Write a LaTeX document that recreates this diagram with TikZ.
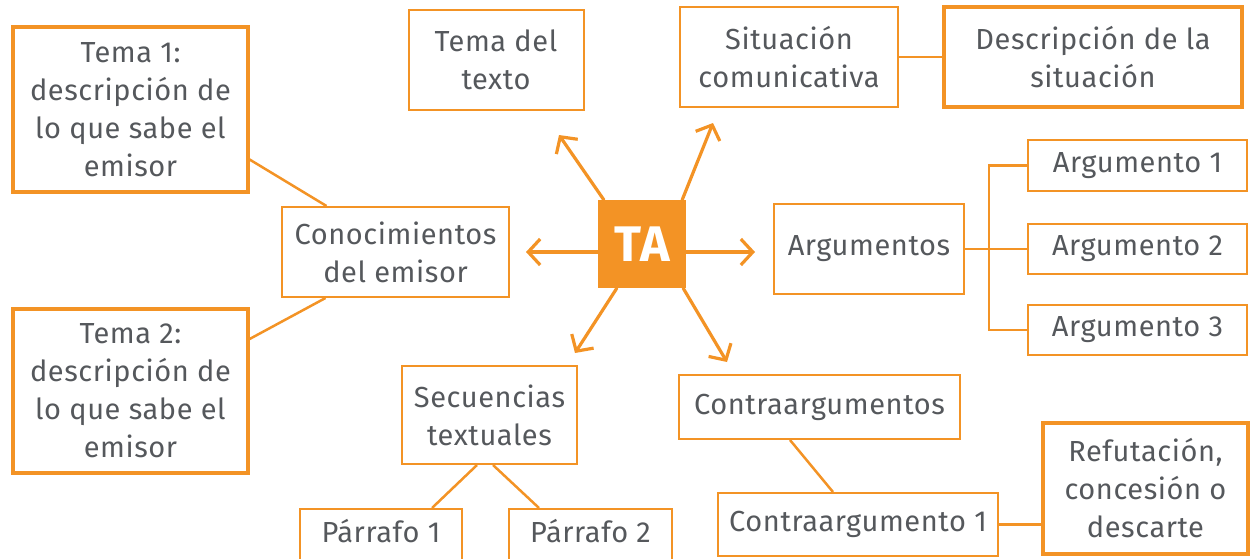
\documentclass[tikz,border=0pt]{standalone}
\usepackage{fontspec}
\setmainfont{Fira Sans}[LetterSpace=2]
\usepackage{tikz}
\usetikzlibrary{arrows.meta}
\definecolor{naranja}{HTML}{F39325}
\definecolor{gris}{HTML}{55585C}

\begin{document}
\begin{tikzpicture}[x=1pt, y=-1pt,
  box/.style = {draw=naranja, line width=2pt, align=center, inner sep=0pt, text=gris, font=\fontsize{29}{38}\selectfont},
  gruesa/.style = {box, line width=3.2pt},
  parrafo/.style = {box, minimum height=58, text depth=14pt},
  linea/.style = {draw=naranja, line width=2.5pt},
  flecha/.style = {draw=naranja, line width=3.2pt, line cap=round, -{Straight Barb[length=12pt,width=26pt]}}]
\clip (0,0) rectangle (1250,558);
\node[gruesa, minimum width=235, minimum height=165] (tema1) at (130.5,109.5) {Tema 1:\\descripción de\\lo que sabe el\\emisor};
\node[gruesa, minimum width=235, minimum height=164] (tema2) at (130.5,391) {Tema 2:\\descripción de\\lo que sabe el\\emisor};
\node[box, minimum width=227, minimum height=90] (conoc) at (395.5,252) {Conocimientos\\del emisor};
\node[box, minimum width=175, minimum height=100] (tematxt) at (496,60) {Tema del\\texto};
\node[box, minimum width=218, minimum height=100] (sit) at (789,57) {Situación\\comunicativa};
\node[gruesa, minimum width=298, minimum height=100] (desc) at (1093,57) {Descripción de la\\situación};
\node[fill=naranja, minimum width=88, minimum height=88, inner sep=0pt, text=white, font=\fontsize{50}{50}\selectfont\bfseries] (ta) at (642,244) {TA};
\node[box, minimum width=190, minimum height=90] (args) at (869,249) {Argumentos};
\node[box, minimum width=219, minimum height=51] (arg1) at (1137.5,165.5) {Argumento 1};
\node[box, minimum width=219, minimum height=50] (arg2) at (1137.5,249) {Argumento 2};
\node[box, minimum width=219, minimum height=50] (arg3) at (1137.5,330) {Argumento 3};
\node[box, minimum width=175, minimum height=98] (sec) at (489.5,415) {Secuencias\\textuales};
\node[parrafo, minimum width=162] (par1) at (381,538) {Párrafo 1};
\node[parrafo, minimum width=163] (par2) at (590.5,538) {Párrafo 2};
\node[box, minimum width=281, minimum height=64] (contras) at (819.5,407) {Contraargumentos};
\node[box, minimum width=280, minimum height=63] (contra1) at (858,524.5) {Contraargumento 1};
\node[gruesa, minimum width=205, minimum height=131] (refut) at (1145.5,488.5) {Refutación,\\concesión o\\descarte};

\coordinate (brk) at (989,249);
\coordinate (pTema) at (559,135);
\coordinate (pSit) at (713,123);
\coordinate (pConoc) at (526,252);
\coordinate (pArgs) at (755,252);
\coordinate (pSec) at (575,353);
\coordinate (pContras) at (727,362);

\draw[flecha] ([xshift=6pt]ta.north west) -- (pTema);
\draw[flecha] ([xshift=-4pt]ta.north east) -- (pSit);
\draw[flecha] ([yshift=-8pt]ta.west) -- (pConoc);
\draw[flecha] ([yshift=-8pt]ta.east) -- (pArgs);
\draw[flecha] ([xshift=19pt]ta.south west) -- (pSec);
\draw[flecha] ([xshift=-3pt]ta.south east) -- (pContras);

\draw[linea] ([yshift=-50pt]tema1.east) -- ([xshift=-69pt]conoc.north);
\draw[linea] ([yshift=52pt]tema2.east) -- ([xshift=-70pt]conoc.south);
\path (sit) edge [linea] (desc);
\path (args) edge [linea] (arg2);
\draw[linea] (arg1.west) -| (brk) |- (arg3.west);
\draw[linea] ([xshift=-12.5pt]sec.south) -- ([xshift=51pt]par1.north);
\draw[linea] ([xshift=3.5pt]sec.south) -- ([xshift=-51.5pt]par2.north);
\draw[linea] ([xshift=-29.5pt]contras.south) -- ([xshift=-25pt]contra1.north);
\draw[linea] (contra1.east) -- (contra1.east -| refut.west);
\end{tikzpicture}
\end{document}
